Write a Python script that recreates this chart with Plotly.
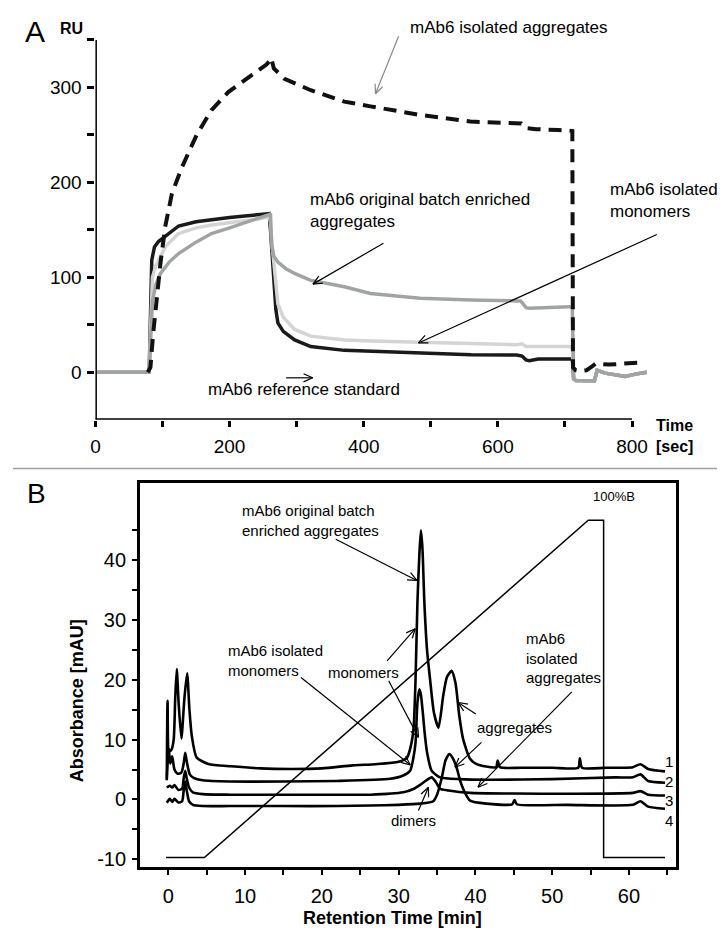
import math
import plotly.graph_objects as go

W, H = 725, 938
FONT = "Liberation Sans, Arial, sans-serif"

# ---------------- Panel A data (SPR sensorgram) ----------------
ref_t = [3, 80, 80.8, 82, 84, 88, 94, 104, 124, 150, 173, 200, 223, 245, 259, 261, 263, 266, 269, 272,
         280, 297, 321, 371, 410, 484, 560, 628, 636, 642, 647, 660, 707, 711, 713, 716, 744, 748, 760,
         775, 790, 805, 822]
ref_v = [0, 0, 20, 80, 118, 132, 137.6, 143, 154, 158.5, 161, 163, 164.6, 165.5, 167, 150, 125, 90, 66, 52,
         43, 34, 27, 23, 22, 20, 18.5, 18, 17, 13, 12, 14, 14.7, 14, -7, -8.7, -9, 2, -1,
         -3, -4.5, -2, 0]

mono_t = [3, 80, 81, 82.5, 85, 90, 97, 104, 124, 150, 173, 222, 245, 259, 261, 264, 268, 272, 280, 297,
          321, 371, 410, 484, 560, 628, 636, 642, 707, 711, 713, 716, 744, 748, 760, 775, 790, 805, 822]
mono_v = [0, 0, 20, 55, 100, 112, 122, 132, 146, 152, 155, 159, 161.5, 164, 158, 130, 98, 72, 58, 45,
          38, 34, 33, 31.5, 30, 29, 30, 27, 27, 26, -7, -8.7, -9, 2, -1, -3, -4.5, -2, 0]

orig_t = [3, 80, 81, 82.5, 85, 90, 97, 110, 124, 150, 173, 200, 222, 245, 259, 261, 262.5, 266, 272, 284,
          297, 320, 371, 410, 484, 560, 628, 634, 642, 647, 707, 711, 713, 716, 744, 748, 760, 775, 790,
          805, 822]
orig_v = [0, 0, 15, 45, 75, 92, 104, 116, 125, 137, 146, 152, 157, 162, 166, 167, 135, 122, 116, 109,
          104, 97, 90, 83, 78, 76, 74.4, 75, 68, 67.4, 69, 68, -7, -8.7, -9, 2, -1, -3, -4.5,
          -2, 0]

agg_t = [78, 82, 86, 90, 97, 104, 114, 129, 151, 173, 198, 233, 255, 260, 262, 266, 282, 321, 371, 410,
         484, 559, 628, 635, 642, 657, 690, 711, 712, 716, 722, 732, 740, 746, 766, 782, 795, 808]
agg_v = [0, 5, 40, 70, 115, 153, 188, 216, 250, 276, 295, 313, 324, 328, 331, 320, 309, 297, 285, 280,
         271, 264, 262, 262, 257, 256, 255, 254, 5, 2, 1, 2, 6, 9, 8, 9, 10, 10]

a_xticks = [0, 100, 200, 300, 400, 500, 600, 700, 800]
a_xlabels = ["0", "", "200", "", "400", "", "600", "", "800"]
a_yticks = [0, 50, 100, 150, 200, 250, 300, 350]
a_ylabels = ["0", "", "100", "", "200", "", "300", ""]

# ---------------- Panel B data (chromatograms) ----------------
c1_x = [-0.2, -0.1, 0.1, 0.4, 0.7, 0.9, 1.1, 1.35, 1.7, 2.1, 2.45, 2.75, 3.05, 3.7, 5.2, 8.2, 12, 16, 20,
        24, 27, 30, 31.1, 31.6, 31.95, 32.2, 32.45, 32.7, 32.9, 33.1, 33.35, 33.7, 34.1, 34.6, 35.2,
        35.8, 36.3, 36.9, 37.4, 37.9, 38.4, 39.3, 40.1, 41.4, 42.7, 42.9, 43.2, 46, 50, 53.4, 53.6,
        53.9, 57, 60.5, 61.5, 62.5, 64.7]
c1_y = [3.2, 16.5, 8, 8.3, 10, 17, 21.8, 16, 10.2, 17, 21.1, 15, 10.7, 7, 5.95, 5.55, 5.2, 5.1, 5.2,
        5.7, 5.9, 6.3, 7.0, 9, 12, 20, 33, 41, 45, 42, 33, 25, 20, 14.5, 12,
        17.3, 20.5, 21.5, 19.5, 14, 10.1, 6.8, 5.95, 5.5, 5.4, 6.5, 5.4, 5.3, 5.3, 5.3, 6.9,
        5.3, 5.3, 5.4, 5.9, 5.1, 4.7]

c2_x = [-0.2, 0.05, 0.25, 0.5, 0.8, 1.2, 1.7, 2.0, 2.2, 2.45, 2.8, 3.3, 4.5, 8, 15, 22, 28.9, 30.6,
        31.5, 31.9, 32.2, 32.45, 32.7, 32.9, 33.15, 33.4, 33.7, 34.3, 35.4, 38, 42, 50, 58.2, 60.5,
        61.5, 62.5, 64.7]
c2_y = [3.5, 8.5, 6, 7.2, 5, 4.3, 4.5, 6, 7.8, 6, 4.2, 3.6, 3.2, 3.0, 3.0, 3.1, 3.45, 4.0,
        4.8, 6.8, 9.5, 16.2, 18.4, 17.5, 14.5, 11, 7.9, 4.8, 3.7, 3.4, 3.3, 3.4, 3.7, 3.7,
        4.2, 3.1, 2.8]

c3_x = [-0.2, 0.2, 0.5, 0.8, 1.3, 1.8, 2.0, 2.2, 2.4, 2.7, 3.2, 4.5, 8, 15, 22, 26.3, 30.6, 32.0,
        32.8, 33.6, 34.3, 34.8, 35.4, 36.5, 39.3, 45, 52.2, 60.5, 61.5, 62.5, 64.7]
c3_y = [2.0, 2.3, 2.0, 2.4, 1.6, 1.8, 3.5, 4.8, 3.5, 2.0, 1.2, 0.9, 0.8, 0.8, 0.8, 0.8, 1.2, 1.8,
        2.45, 3.2, 3.7, 3.0, 1.8, 1.5, 1.1, 1.0, 0.95, 1.1, 1.4, 0.8, 0.67]

c4_x = [-0.2, 0.2, 0.5, 0.8, 1.3, 1.8, 2.0, 2.2, 2.4, 2.7, 3.2, 4.5, 8, 15, 22, 26.3, 30, 32.8, 34.5,
        35.0, 35.6, 36.1, 36.6, 37.1, 37.6, 38.0, 38.4, 38.6, 39.3, 41.4, 44.8, 45.1, 45.4, 52, 60.5,
        61.5, 62.5, 64.7]
c4_y = [-0.55, 0.1, -0.4, 0.1, -0.5, -0.3, 1.5, 3.0, 1.5, -0.3, -0.9, -1.1, -1.1, -1.1, -1.1, -1.0,
        -0.9, -0.7, -0.3, 0.8, 3.5, 6.5, 7.6, 6.8, 5.1, 3.2, 1.8, 1.2, -0.2, -0.7, -0.8, -0.1, -0.8,
        -0.9, -0.9, -0.3, -1.2, -1.55]

curve_labels = ["1", "2", "3", "4"]

grad_x = [-0.3, 4.7, 54.7, 56.7, 56.7, 64.7]
grad_y = [-9.7, -9.7, 46.7, 46.7, -9.7, -9.7]

b_xticks = [0, 5, 10, 15, 20, 25, 30, 35, 40, 45, 50, 55, 60, 65]
b_xlabels = ["0", "", "10", "", "20", "", "30", "", "40", "", "50", "", "60", ""]
b_yticks = [-10, -5, 0, 5, 10, 15, 20, 25, 30, 35, 40, 45]
b_ylabels = ["-10", "", "0", "", "10", "", "20", "", "30", "", "40", ""]

# ---------------- helpers ----------------
def px(x):
    return x / W

def py(y):
    return 1 - y / H

shapes = []
annotations = []

def arrow(tail, head, color="black", width=1.2, hl=10, ang=24):
    shapes.append(dict(type="line", xref="paper", yref="paper", x0=px(tail[0]), y0=py(tail[1]),
                       x1=px(head[0]), y1=py(head[1]), line=dict(color=color, width=width), layer="above"))
    dx, dy = tail[0] - head[0], tail[1] - head[1]
    L = math.hypot(dx, dy)
    ux, uy = dx / L, dy / L
    for s in (1, -1):
        a = math.radians(ang * s)
        rx = ux * math.cos(a) - uy * math.sin(a)
        ry = ux * math.sin(a) + uy * math.cos(a)
        shapes.append(dict(type="line", xref="paper", yref="paper", x0=px(head[0]), y0=py(head[1]),
                           x1=px(head[0] + hl * rx), y1=py(head[1] + hl * ry),
                           line=dict(color=color, width=width), layer="above"))

def text(t, left, cy, size, bold=False, anchor="left", align="left"):
    if bold:
        t = "<b>" + t + "</b>"
    annotations.append(dict(text=t, x=px(left), y=py(cy), xref="paper", yref="paper",
                            xanchor=anchor, yanchor="middle", align=align, showarrow=False,
                            borderpad=0, font=dict(family=FONT, size=size, color="black")))

# ---------------- figure ----------------
fig = go.Figure()

# Panel A traces
fig.add_trace(go.Scatter(x=ref_t, y=ref_v, mode="lines", line=dict(color="#1a1a1a", width=3.5),
                         xaxis="x", yaxis="y", showlegend=False))
fig.add_trace(go.Scatter(x=mono_t, y=mono_v, mode="lines", line=dict(color="#d4d4d4", width=3.5),
                         xaxis="x", yaxis="y", showlegend=False))
fig.add_trace(go.Scatter(x=orig_t, y=orig_v, mode="lines", line=dict(color="#a2a4a4", width=3.5),
                         xaxis="x", yaxis="y", showlegend=False))
fig.add_trace(go.Scatter(x=agg_t, y=agg_v, mode="lines",
                         line=dict(color="#111111", width=4, dash="13px,8px"),
                         xaxis="x", yaxis="y", showlegend=False))

# Panel B traces
fig.add_trace(go.Scatter(x=grad_x, y=grad_y, mode="lines", line=dict(color="black", width=1.5),
                         xaxis="x2", yaxis="y2", showlegend=False))
for cx, cy in [(c4_x, c4_y), (c3_x, c3_y), (c2_x, c2_y), (c1_x, c1_y)]:
    fig.add_trace(go.Scatter(x=cx, y=cy, mode="lines",
                             line=dict(color="black", width=2.6, shape="spline", smoothing=0.6),
                             xaxis="x2", yaxis="y2", showlegend=False))

# Panel A axis lines (axis stops at 800 while data runs slightly beyond)
shapes.append(dict(type="line", xref="x", yref="y", x0=0, y0=-50, x1=800, y1=-50,
                   line=dict(color="black", width=3)))
shapes.append(dict(type="line", xref="x", yref="y", x0=0, y0=-50, x1=0, y1=350,
                   line=dict(color="black", width=3)))

# Separator
shapes.append(dict(type="line", xref="paper", yref="paper", x0=0, y0=py(462), x1=1, y1=py(462),
                   line=dict(color="#a0a0a0", width=1.5)))

# Panel A texts & arrows
text("A", 11, 24, 30)
text("RU", 46, 21, 16, bold=True)
text("mAb6 isolated aggregates", 399, 20, 17)
arrow((388.3, 28.3), (365, 86), color="#8a8a8a", width=1.2)
text("mAb6 original batch enriched<br>aggregates", 298, 203, 17)
arrow((373, 236), (302, 277))
text("mAb6 isolated<br>monomers", 600, 193, 17)
arrow((648.3, 227.3), (408.3, 336))
text("mAb6 reference standard", 195, 383, 17)
arrow((275, 371), (301.7, 371))
text("Time<br>[sec]", 646, 429, 16, bold=True)

# Panel B texts & arrows
text("B", 13, 487, 28)
text("100%B", 583, 490, 13)
text("mAb6 original batch<br>enriched aggregates", 230, 514, 15)
arrow((325, 533), (406.7, 574.3))
text("mAb6 isolated<br>monomers", 215, 654.5, 15)
arrow((290, 671.7), (400, 759.3))
text("monomers", 316, 666.7, 15)
arrow((376.7, 655), (405, 622.7))
arrow((378.3, 675), (408.3, 731.7))
text("aggregates", 466, 721.7, 15)
arrow((466, 708.3), (448.3, 696.7))
arrow((471.7, 736.7), (445, 761.7))
text("mAb6<br>isolated<br>aggregates", 516, 651.7, 15)
arrow((562.7, 686), (468.3, 781.7))
text("dimers", 380, 815, 15)
arrow((408.3, 805), (418.3, 781.7))
text("<br>".join(curve_labels), 661, 786, 15, anchor="center", align="center")
text("Retention Time [min]", 382, 913, 18, bold=True, anchor="center", align="center")
annotations.append(dict(text="<b>Absorbance [mAU]</b>", x=px(64), y=py(695), xref="paper", yref="paper",
                        xanchor="center", yanchor="middle", textangle=-90, showarrow=False,
                        font=dict(family=FONT, size=18, color="black")))

tickfont = dict(family=FONT, size=19, color="black")
fig.update_layout(
    width=W, height=H, margin=dict(l=0, r=0, t=0, b=0, pad=0),
    paper_bgcolor="white", plot_bgcolor="white", showlegend=False,
    xaxis=dict(domain=[px(83), px(83 + 830 * 0.6754)], range=[0, 830], anchor="y",
               showgrid=False, zeroline=False, showline=False,
               tickvals=a_xticks, ticktext=a_xlabels, ticks="outside", ticklen=6, tickwidth=2.5,
               tickcolor="black", tickfont=tickfont, ticklabelstandoff=4),
    yaxis=dict(domain=[py(413), py(32)], range=[-50, 350], anchor="x",
               showgrid=False, zeroline=False, showline=False,
               tickvals=a_yticks, ticktext=a_ylabels, ticks="outside", ticklen=7, tickwidth=2.5,
               tickcolor="black", tickfont=tickfont, ticklabelstandoff=2),
    xaxis2=dict(domain=[px(128), px(668)], range=[-3.674, 66.18], anchor="y2",
                showgrid=False, zeroline=False, showline=True, mirror=True, linecolor="black",
                linewidth=3, tickvals=b_xticks, ticktext=b_xlabels, ticks="outside", ticklen=5,
                tickwidth=2, tickcolor="black", tickfont=dict(family=FONT, size=20, color="black"),
                ticklabelstandoff=4),
    yaxis2=dict(domain=[py(862), py(477)], range=[-11.33, 52.83], anchor="x2",
                showgrid=False, zeroline=False, showline=True, mirror=True, linecolor="black",
                linewidth=3, tickvals=b_yticks, ticktext=b_ylabels, ticks="outside", ticklen=5,
                tickwidth=2, tickcolor="black", tickfont=dict(family=FONT, size=20, color="black"),
                ticklabelstandoff=2),
    shapes=shapes, annotations=annotations,
)

fig.write_html("out.html")
